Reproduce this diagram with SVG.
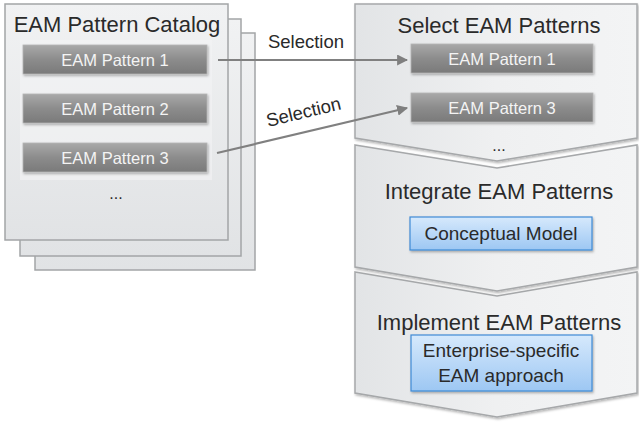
<svg xmlns="http://www.w3.org/2000/svg" width="639" height="423" viewBox="0 0 639 423">
<defs>
<linearGradient id="pageGrad" x1="0" y1="0" x2="0" y2="1">
<stop offset="0" stop-color="#f1f2f3"/><stop offset="1" stop-color="#e1e3e5"/>
</linearGradient>
<linearGradient id="chevGrad" x1="0" y1="0" x2="1" y2="0">
<stop offset="0" stop-color="#e2e4e6"/><stop offset="0.5" stop-color="#eff0f1"/><stop offset="1" stop-color="#f3f4f5"/>
</linearGradient>
<linearGradient id="btnGrad" x1="0" y1="0" x2="0" y2="1">
<stop offset="0" stop-color="#a9a9a9"/><stop offset="0.5" stop-color="#8c8c8c"/><stop offset="1" stop-color="#7a7a7a"/>
</linearGradient>
<linearGradient id="blueGrad" x1="0" y1="0" x2="0" y2="1">
<stop offset="0" stop-color="#d6e9fc"/><stop offset="1" stop-color="#9dc7f3"/>
</linearGradient>
<filter id="sh" x="-10%" y="-10%" width="130%" height="130%">
<feDropShadow dx="1" dy="1.5" stdDeviation="1" flood-color="#000" flood-opacity="0.3"/>
</filter>
<marker id="arr" viewBox="0 0 10 10" refX="9" refY="5" markerWidth="5" markerHeight="5" orient="auto" markerUnits="strokeWidth">
<path d="M0,0 L10,5 L0,10 z" fill="#7f7f7f"/>
</marker>
</defs>
<style>
.page{fill:url(#pageGrad);stroke:#a3a5a7;stroke-width:1.5}
.chev{fill:url(#chevGrad);stroke:#a6a8aa;stroke-width:1.5;filter:url(#sh)}
.btn{fill:url(#btnGrad);stroke:#b5b5b5;stroke-width:0.8;filter:url(#sh)}
.btnt{font-family:"Liberation Sans",Arial,sans-serif;font-size:16.5px;fill:#f4f4f4;text-anchor:middle}
.blue{fill:url(#blueGrad);stroke:#3f8ad6;stroke-width:1.2;filter:url(#sh)}
.bluet{font-family:"Liberation Sans",Arial,sans-serif;font-size:19px;fill:#2a2a2a;text-anchor:middle}
.title{font-family:"Liberation Sans",Arial,sans-serif;font-size:22px;fill:#2a2a2a;text-anchor:middle}
.lbl{font-family:"Liberation Sans",Arial,sans-serif;font-size:18.5px;fill:#2a2a2a;text-anchor:middle}
.dots{font-family:"Liberation Sans",Arial,sans-serif;font-size:16px;fill:#2a2a2a;text-anchor:middle}
.conn{stroke:#808080;stroke-width:2.2;fill:none;marker-end:url(#arr)}
</style>

<g id="catalog">
<rect class="page" x="35" y="33" width="220" height="237"/>
<rect class="page" x="20" y="19" width="221" height="237"/>
<rect class="page" x="5" y="4" width="223" height="236"/>
<rect x="20" y="40" width="192" height="140" fill="#f3f4f5" opacity="0.6"/>
<text class="title" x="117" y="32">EAM Pattern Catalog</text>
<text class="dots" x="116" y="199">...</text>
</g>
<g id="cat-p1"><rect class="btn" x="23" y="45" width="184" height="29"/><text class="btnt" x="115" y="66">EAM Pattern 1</text></g>
<g id="cat-p2"><rect class="btn" x="23" y="94" width="184" height="29"/><text class="btnt" x="115" y="115">EAM Pattern 2</text></g>
<g id="cat-p3"><rect class="btn" x="23" y="143" width="184" height="29"/><text class="btnt" x="115" y="164">EAM Pattern 3</text></g>

<g id="step-implement">
<path class="chev" d="M355,272 L497,296 L637,272 L637,393 L497,417 L355,393 Z"/>
<text class="title" x="499" y="330">Implement EAM Patterns</text>
</g>
<g id="step-integrate">
<path class="chev" d="M355,145 L497,168 L637,145 L637,267 L497,291 L355,267 Z"/>
<text class="title" x="499" y="199">Integrate EAM Patterns</text>
</g>
<g id="step-select">
<path class="chev" d="M355,4 L637,4 L637,138 L497,161 L355,138 Z"/>
<text class="title" x="499" y="33">Select EAM Patterns</text>
<text class="dots" x="499" y="151">...</text>
</g>
<g id="sel-p1"><rect class="btn" x="411" y="44" width="182" height="29"/><text class="btnt" x="502" y="65">EAM Pattern 1</text></g>
<g id="sel-p3"><rect class="btn" x="411" y="93" width="182" height="29"/><text class="btnt" x="502" y="114">EAM Pattern 3</text></g>
<g id="conceptual-model"><rect class="blue" x="410" y="217" width="182" height="33"/><text class="bluet" x="501" y="240">Conceptual Model</text></g>
<g id="enterprise-approach"><rect class="blue" x="411" y="335" width="181" height="56"/><text class="bluet" x="501" y="357">Enterprise-specific</text><text class="bluet" x="501" y="382">EAM approach</text></g>

<g id="connectors">
<line class="conn" x1="218" y1="60" x2="407" y2="60"/>
<line class="conn" x1="217" y1="153" x2="407" y2="108"/>
<text class="lbl" x="306" y="48">Selection</text>
<text class="lbl" x="305" y="118" transform="rotate(-13.5 305 118)">Selection</text>
</g>
</svg>
